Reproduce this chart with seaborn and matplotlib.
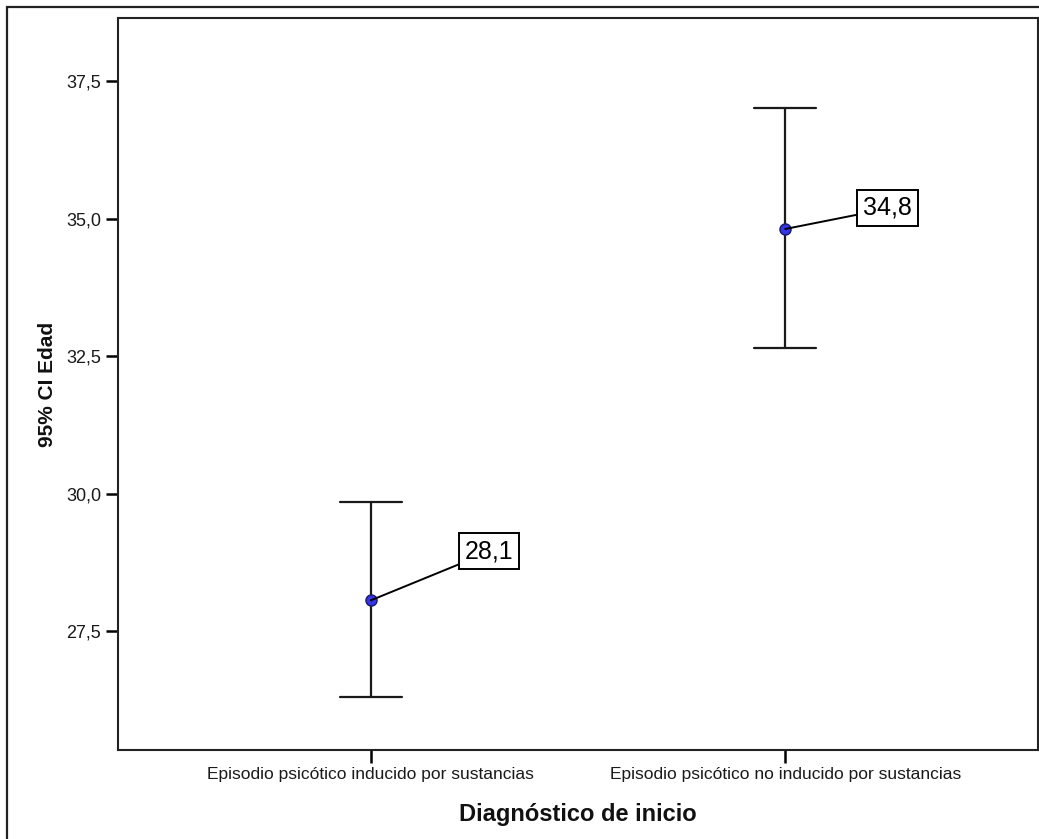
import pandas as pd
import numpy as np
import matplotlib
matplotlib.use("Agg")
import matplotlib.pyplot as plt
from matplotlib.patches import Rectangle
from matplotlib.ticker import FuncFormatter
import seaborn as sns

# summary values (mean and 95% CI of Edad)
categorias = ["Episodio psicótico inducido por sustancias",
              "Episodio psicótico no inducido por sustancias"]
media = [28.06, 34.81]
ic_inf = [26.30, 32.65]
ic_sup = [29.84, 37.01]
etiquetas = ["28,1", "34,8"]
y_ticks = [27.5, 30.0, 32.5, 35.0, 37.5]

# long table: lower / mean / upper per group, so median = mean and min/max = CI
df = pd.DataFrame({
    "Diagnóstico de inicio": np.repeat(categorias, 3),
    "Edad": np.ravel(np.column_stack([ic_inf, media, ic_sup])),
})

sns.set_style("ticks")
plt.rcParams["font.family"] = ["Liberation Sans", "DejaVu Sans"]

fig = plt.figure(figsize=(10.39, 8.39), dpi=100)
ax = fig.add_axes([118 / 1039, 1 - 750 / 839, 920 / 1039, 732 / 839])

sns.pointplot(data=df, x="Diagnóstico de inicio", y="Edad", order=categorias,
              estimator="median", errorbar=lambda v: (v.min(), v.max()),
              capsize=0.15, linestyle="none", marker="o", markersize=8,
              color="#3535e8", markeredgecolor="#1a1a66", markeredgewidth=1.0,
              err_kws={"color": "#1a1a1a", "linewidth": 1.6, "zorder": 1},
              zorder=3, ax=ax)

# value boxes with leader lines
offsets = [(94, 37), (78, 9)]
relpos = [(0.0, 0.06), (0.0, 0.27)]
for i, txt in enumerate(etiquetas):
    ax.annotate(txt, xy=(i, media[i]), xytext=offsets[i], textcoords="offset pixels",
                fontsize=18, ha="left", va="bottom", color="black",
                bbox=dict(boxstyle="square,pad=0.24", fc="white", ec="black", lw=1.4),
                arrowprops=dict(arrowstyle="-", color="black", lw=1.4,
                                relpos=relpos[i], shrinkA=0, shrinkB=0),
                zorder=4)

ax.set_xlim(-0.61, 1.61)
ax.set_ylim(25.34, 38.645)
ax.set_yticks(y_ticks)
ax.yaxis.set_major_formatter(FuncFormatter(lambda v, p: f"{v:.1f}".replace(".", ",")))
ax.tick_params(axis="both", direction="out", length=9, width=1.8, color="black",
               labelcolor="#1a1a1a", pad=3)
ax.tick_params(axis="y", labelsize=13)
ax.tick_params(axis="x", labelsize=12.5)

for s in ax.spines.values():
    s.set_visible(True)
    s.set_color("#222222")
    s.set_linewidth(1.5)

ax.set_xlabel("Diagnóstico de inicio", fontsize=17, fontweight="bold", color="#111111")
ax.set_ylabel("95% CI Edad", fontsize=15, fontweight="bold", color="#111111")
ax.xaxis.set_label_coords(0.5, -0.072)
ax.yaxis.set_label_coords(-0.066, 0.5)

# outer frame (cut by the image edge on the right and bottom)
fig.patches.append(Rectangle((7 / 1039, -0.2), 1.5, 1.2 - 7 / 839,
                             transform=fig.transFigure, fill=False,
                             ec="#222222", lw=1.6))

fig.savefig("out.png", dpi=100, facecolor="white")
